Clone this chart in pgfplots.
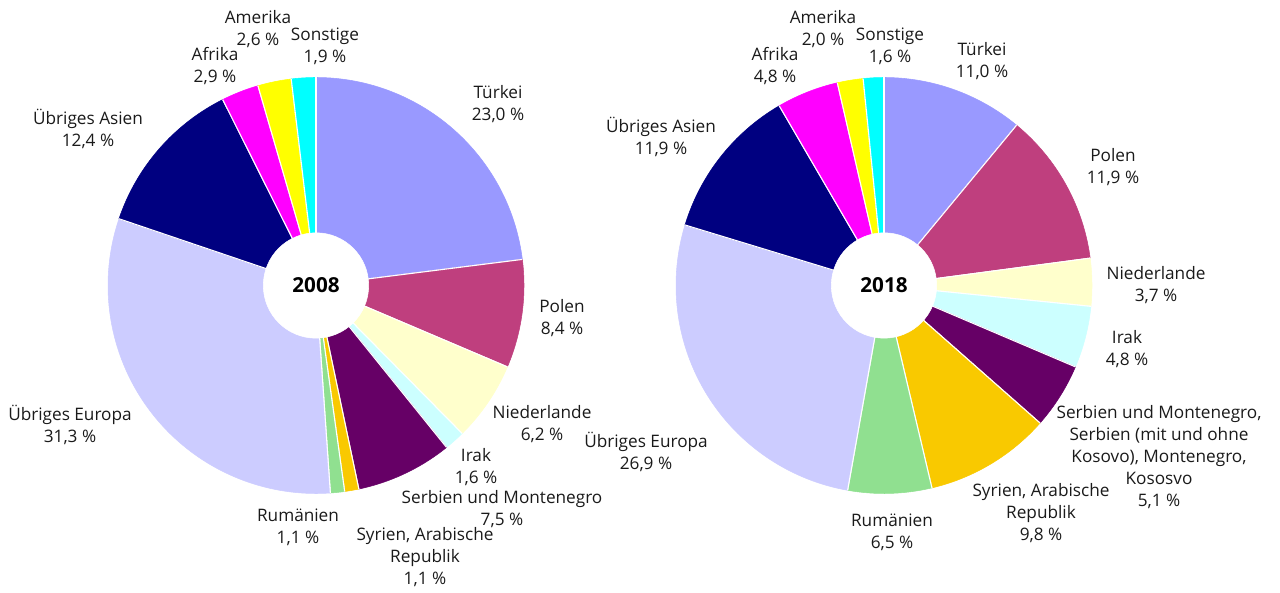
\documentclass[border=0pt]{standalone}
\usepackage{pgfplots}
\pgfplotsset{compat=1.18}
\usepackage{pgfplotstable}
\usepackage{fontspec}
\setmainfont{Open Sans}
\definecolor{c1}{HTML}{9999FF}
\definecolor{c2}{HTML}{BF3F7E}
\definecolor{c3}{HTML}{FFFFCC}
\definecolor{c4}{HTML}{CCFFFF}
\definecolor{c5}{HTML}{660066}
\definecolor{c6}{HTML}{F9C900}
\definecolor{c7}{HTML}{90E090}
\definecolor{c8}{HTML}{CCCCFF}
\definecolor{c9}{HTML}{000080}
\definecolor{c10}{HTML}{FF00FF}
\definecolor{c11}{HTML}{FFFF00}
\definecolor{c12}{HTML}{00FFFF}
\definecolor{txt}{HTML}{1A1A1A}
% x y = centre of pie (pixel grid), st = cumulative share before slice, pc = share (%)
\pgfplotstableread{
x y st pc idx
316 306.5 0.0 23.0 1
316 306.5 23.0 8.4 2
316 306.5 31.4 6.2 3
316 306.5 37.6 1.6 4
316 306.5 39.2 7.5 5
316 306.5 46.7 1.1 6
316 306.5 47.8 1.1 7
316 306.5 48.9 31.3 8
316 306.5 80.2 12.4 9
316 306.5 92.6 2.9 10
316 306.5 95.5 2.6 11
316 306.5 98.1 1.9 12
}\pieA
\pgfplotstableread{
x y st pc idx
884 306.5 0.0 11.0 1
884 306.5 11.0 11.9 2
884 306.5 22.9 3.7 3
884 306.5 26.6 4.8 4
884 306.5 31.4 5.1 5
884 306.5 36.5 9.8 6
884 306.5 46.3 6.5 7
884 306.5 52.8 26.9 8
884 306.5 79.7 11.9 9
884 306.5 91.6 4.8 10
884 306.5 96.4 2.0 11
884 306.5 98.4 1.6 12
}\pieB
\pgfplotsset{
  pieslice/.style={
    only marks, scatter, mark=*, mark size=0pt,
    mark options={draw=none, fill=none},
    visualization depends on={\thisrow{st} \as \st},
    visualization depends on={\thisrow{pc} \as \pc},
    visualization depends on={\thisrow{idx} \as \idx},
    scatter/@pre marker code/.code={%
      \pgfmathsetmacro\aone{90-3.6*\st}%
      \pgfmathsetmacro\atwo{90-3.6*(\st+\pc)}%
      \pgfmathtruncatemacro\ci{\idx}%
      \fill[c\ci] (0,0) -- (\aone:156pt) arc[start angle=\aone, end angle=\atwo, radius=156pt] -- cycle;
      \draw[white, line width=0.8pt] (0,0) -- (\aone:156pt);
      \draw[white, line width=0.8pt] (0,0) -- (\atwo:156pt);
    },
    scatter/@post marker code/.code={},
  },
  piehole/.style={
    only marks, scatter, mark=*, mark size=0pt,
    mark options={draw=none, fill=none},
    scatter/@pre marker code/.code={%
      \fill[white] (0,0) circle[radius=39.5pt];
    },
    scatter/@post marker code/.code={},
  }
}
\begin{document}
\begin{tikzpicture}
\begin{axis}[
  x=0.75pt, y=0.75pt,
  xmin=0, xmax=1280, ymin=0, ymax=592,
  hide axis, clip=false,
]
\addplot[pieslice] table[x=x, y=y] {\pieA};
\addplot[pieslice] table[x=x, y=y] {\pieB};
\addplot[piehole] coordinates {(316,306.5) (884,306.5)};
\coordinate (cA) at (axis cs:316,306.5);
\coordinate (cB) at (axis cs:884,306.5);
\begin{scope}[every node/.style={font=\fontsize{12.9}{16.5}\selectfont, align=center, text=txt, inner sep=0pt}]
% 2008
\node at (axis cs:258,563) {Amerika\\2,6 \%};
\node at (axis cs:325,546) {Sonstige\\1,9 \%};
\node at (axis cs:215,526) {Afrika\\2,9 \%};
\node at (axis cs:88,463) {Übriges Asien\\12,4 \%};
\node at (axis cs:498,488) {Türkei\\23,0 \%};
\node at (axis cs:562,274) {Polen\\8,4 \%};
\node at (axis cs:542,168) {Niederlande\\6,2 \%};
\node at (axis cs:476,125) {Irak\\1,6 \%};
\node at (axis cs:502,83) {Serbien und Montenegro\\7,5 \%};
\node at (axis cs:425,35) {Syrien, Arabische\\Republik\\1,1 \%};
\node at (axis cs:298,65) {Rumänien\\1,1 \%};
\node at (axis cs:70,167) {Übriges Europa\\31,3 \%};
% 2018
\node at (axis cs:823,563) {Amerika\\2,0 \%};
\node at (axis cs:890,546) {Sonstige\\1,6 \%};
\node at (axis cs:775,526) {Afrika\\4,8 \%};
\node at (axis cs:661,455) {Übriges Asien\\11,9 \%};
\node at (axis cs:982,531) {Türkei\\11,0 \%};
\node at (axis cs:1113,425) {Polen\\11,9 \%};
\node at (axis cs:1156,307) {Niederlande\\3,7 \%};
\node at (axis cs:1127,243) {Irak\\4,8 \%};
\node at (axis cs:1159,135) {Serbien und Montenegro,\\Serbien (mit und ohne\\Kosovo), Montenegro,\\Kososvo\\5,1 \%};
\node at (axis cs:1041,79) {Syrien, Arabische\\Republik\\9,8 \%};
\node at (axis cs:892,60) {Rumänien\\6,5 \%};
\node at (axis cs:646,140) {Übriges Europa\\26,9 \%};
\end{scope}
\end{axis}
\node[font=\fontsize{15.5}{18}\selectfont\bfseries, text=black, inner sep=0pt] at (cA) {2008};
\node[font=\fontsize{15.5}{18}\selectfont\bfseries, text=black, inner sep=0pt] at (cB) {2018};
\pgfresetboundingbox
\path (current axis.south west) rectangle (current axis.north east);
\end{tikzpicture}
\end{document}
